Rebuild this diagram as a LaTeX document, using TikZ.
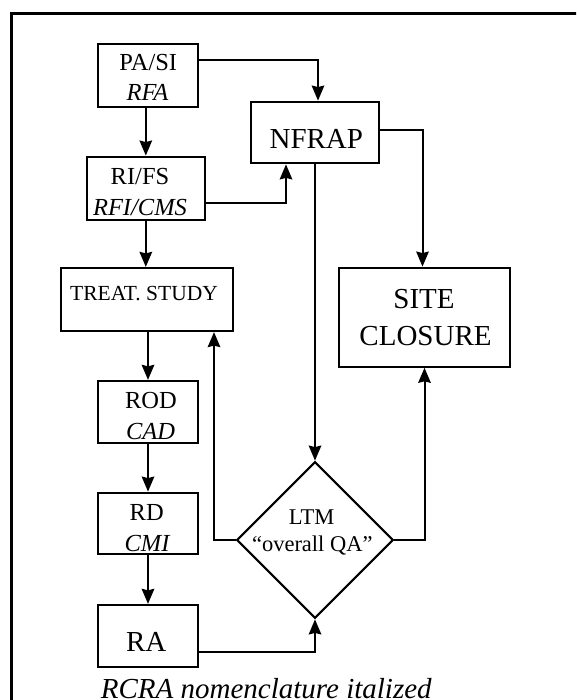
\documentclass[tikz,border=0pt]{standalone}
\usepackage{fontspec}
\setmainfont{Liberation Serif}
\usetikzlibrary{arrows.meta,shapes.geometric}
\newcommand\fA{\fontsize{24.5}{28}\selectfont}
\newcommand\fB{\fontsize{29}{34}\selectfont}
\newcommand\fT{\fontsize{21.5}{26}\selectfont}
\newcommand\fL{\fontsize{22.5}{27}\selectfont}
\tikzset{
  box/.style={draw, line width=2.2pt, inner sep=0pt, fill=white},
  txt/.style={anchor=base, inner sep=0pt},
  arr/.style={line width=2pt, -{Stealth[length=15pt,width=12.5pt,inset=1.5pt]}},
}
\begin{document}
\begin{tikzpicture}[x=1pt,y=-1pt]
\useasboundingbox (0,0) rectangle (576,700);
\begin{scope}
\clip (0,0) rectangle (576,700);
\fill[white] (0,0) rectangle (576,700);
\draw[line width=2.6pt] (11.5,13.5) rectangle (620,740);

% boxes
\node[box, minimum width=100.3pt, minimum height=62.4pt] (pasi) at (148,75.5) {};
\node[box, minimum width=118.3pt, minimum height=63.3pt] (rifs) at (145.8,188.3) {};
\node[box, minimum width=172pt, minimum height=63pt] (treat) at (147,299.5) {};
\node[box, minimum width=128.6pt, minimum height=61.6pt] (nfrap) at (315,132.5) {};
\node[box, minimum width=171pt, minimum height=99pt] (site) at (424.5,317.2) {};
\node[box, minimum width=100.3pt, minimum height=61.7pt] (rod) at (148,411.8) {};
\node[box, minimum width=100.3pt, minimum height=61.6pt] (rd) at (148,523.5) {};
\node[box, minimum width=100.3pt, minimum height=61.7pt] (ra) at (148,635.8) {};
\node[draw, line width=2.2pt, diamond, aspect=1, inner sep=0pt,
      minimum width=156.6pt, minimum height=156.6pt] (ltm) at (315,540) {};

% texts
\node[txt, font=\fA] (t1) at (148.3,70.7) {PA/SI};
\node[txt, font=\fA\itshape] (t2) at (147.5,101) {RFA};
\node[txt, font=\fA] (t3) at (140,184.3) {RI/FS};
\node[txt, font=\fA\itshape] (t4) at (140,216) {RFI/CMS};
\node[txt, font=\fT] (t5) at (144,300) {TREAT. STUDY};
\node[txt, font=\fB] (t6) at (316.3,148.3) {NFRAP};
\node[txt, font=\fB] (t7) at (424,308.3) {SITE};
\node[txt, font=\fB] (t8) at (425.5,345) {CLOSURE};
\node[txt, font=\fA] (t9) at (151,408.3) {ROD};
\node[txt, font=\fA\itshape] (t10) at (150.5,439.3) {CAD};
\node[txt, font=\fA] (t11) at (146.7,520) {RD};
\node[txt, font=\fA\itshape] (t12) at (147,551) {CMI};
\node[txt, font=\fB] (t13) at (146.2,651.7) {RA};
\node[txt, font=\fL] (t14) at (311.7,524) {LTM};
\node[txt, font=\fL] (t15) at (312.3,551.7) {“overall QA”};
\node[txt, font=\fB\itshape] (cap) at (266.3,698.5) {RCRA nomenclature italized};

% connectors
\draw[arr] ([yshift=15.5pt]pasi.east) -| ([xshift=3pt]nfrap.north);
\draw[arr] (pasi.south -| rifs.north) -- (rifs.north);
\draw[arr] ([yshift=-14.4pt]rifs.east) -| ([xshift=-29pt]nfrap.south);
\draw[arr] (rifs.south) -- (rifs.south |- treat.north);
\draw[arr] ([yshift=2.5pt]nfrap.east) -| ([xshift=-2pt]site.north);
\draw[arr] (nfrap.south) -- (ltm.north);
\draw[arr] (rod.north |- treat.south) -- (rod.north);
\draw[arr] (rod.south) -- (rd.north);
\draw[arr] (rd.south) -- (ra.north);
\draw[arr] ([yshift=-15.9pt]ra.east) -| (ltm.south);
\draw[arr] (ltm.west) -| ([xshift=67pt]treat.south);
\draw[arr] (ltm.east) -| (site.south);
\end{scope}
\end{tikzpicture}
\end{document}
